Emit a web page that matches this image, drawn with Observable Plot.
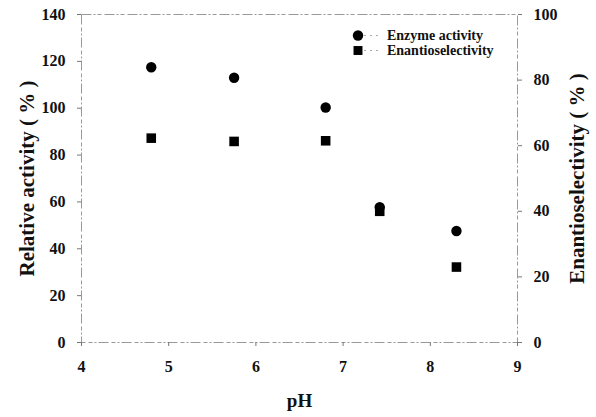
<!DOCTYPE html>
<html><head>
<meta charset="utf-8">
<script src="https://cdn.jsdelivr.net/npm/d3@7"></script>
<script src="https://cdn.jsdelivr.net/npm/@observablehq/plot@0.6"></script>
<style>
body{margin:0;background:#fff}
#wrap{position:relative;width:596px;height:417px}
#legend{position:absolute;left:352px;top:28px;font-family:"Liberation Serif",serif;font-weight:bold;font-size:14px;line-height:15px;color:#111}
#legend div{display:flex;align-items:center;height:15px}
#legend svg{margin-right:5px}
svg text{font-family:"Liberation Serif",serif !important;font-weight:bold !important}
</style>
</head><body><div id="wrap"><div id="legend"></div></div>
<script>
// Data
const pH = [4.8, 5.75, 6.8, 7.42, 8.3];
const enzymeActivity = [117.5, 113, 100.3, 57.8, 47.6];
const enantioselectivity = [62.3, 61.3, 61.5, 40, 23];
const xTicks = [4, 5, 6, 7, 8, 9];
const leftTicks = [0, 20, 40, 60, 80, 100, 120, 140];
const rightTicks = [0, 20, 40, 60, 80, 100];
const seriesNames = ["Enzyme activity", "Enantioselectivity"];

const leftMax = 140, rightMax = 100;
const k = leftMax / rightMax; // right axis -> left axis scale factor

const rows1 = pH.map((x, i) => ({x, y: enzymeActivity[i]}));
const rows2 = pH.map((x, i) => ({x, y: enantioselectivity[i] * k}));

const chart = Plot.plot({
  width: 596, height: 417,
  marginLeft: 81, marginRight: 79, marginTop: 14, marginBottom: 75,
  style: {fontFamily: "Liberation Serif, serif", fontSize: "16px", fontWeight: "bold", color: "#111", background: "#fff"},
  x: {domain: [4, 9]},
  y: {domain: [0, leftMax]},
  marks: [
    Plot.frame({stroke: "#999", strokeDasharray: "10,2,2,2,4,3", strokeWidth: 1}),
    Plot.axisX({ticks: xTicks, tickSize: 4, tickPadding: 14, tickFormat: d3.format("d"), label: "pH", labelAnchor: "center", labelOffset: 64, labelArrow: false, stroke: "#777", fontFamily: "Liberation Serif", fontWeight: "bold"}),
    Plot.axisY({ticks: leftTicks, tickSize: 4, tickPadding: 12, label: "Relative activity ( % )", labelAnchor: "center", labelOffset: 62, labelArrow: false, stroke: "#777", fontFamily: "Liberation Serif", fontWeight: "bold"}),
    Plot.axisY({anchor: "right", ticks: rightTicks.map(v => v * k), tickFormat: d => Math.round(d / k), tickSize: 4, tickPadding: 12, label: "Enantioselectivity ( % )", labelAnchor: "center", labelOffset: 66, labelArrow: false, stroke: "#777", fontFamily: "Liberation Serif", fontWeight: "bold"}),
    Plot.dot(rows1, {x: "x", y: "y", r: 5.2, fill: "#000", stroke: "none"}),
    Plot.dot(rows2, {x: "x", y: "y", r: 5.4, symbol: "square", fill: "#000", stroke: "none"})
  ]
});
const wrap = document.getElementById("wrap");
wrap.insertBefore(chart, wrap.firstChild);

// fonts: bold serif everywhere, larger axis titles
const svg = d3.select(chart);
svg.selectAll("text")
  .style("font-family", "'Liberation Serif', serif", "important")
  .style("font-weight", "bold", "important")
  .attr("fill", "#111");
svg.selectAll('[aria-label="y-axis tick label"] text, [aria-label="x-axis tick label"] text').style("font-size", "16px");
svg.selectAll('[aria-label="y-axis label"] text').style("font-size", "21px");
svg.selectAll('[aria-label="x-axis label"] text').style("font-size", "19px");

// legend
const legend = d3.select("#legend");
const symbols = [d3.symbolCircle, d3.symbolSquare];
seriesNames.forEach((name, i) => {
  const row = legend.append("div");
  const s = row.append("svg").attr("width", 30).attr("height", 15);
  s.append("line").attr("x1", 6).attr("x2", 26).attr("y1", 7.5).attr("y2", 7.5).attr("stroke", "#aaa").attr("stroke-dasharray", "2,4");
  s.append("path").attr("transform", "translate(6,7.5)").attr("d", d3.symbol(symbols[i], i ? 80 : 85)()).attr("fill", "#000");
  row.append("span").text(name);
});
</script>
</body></html>
